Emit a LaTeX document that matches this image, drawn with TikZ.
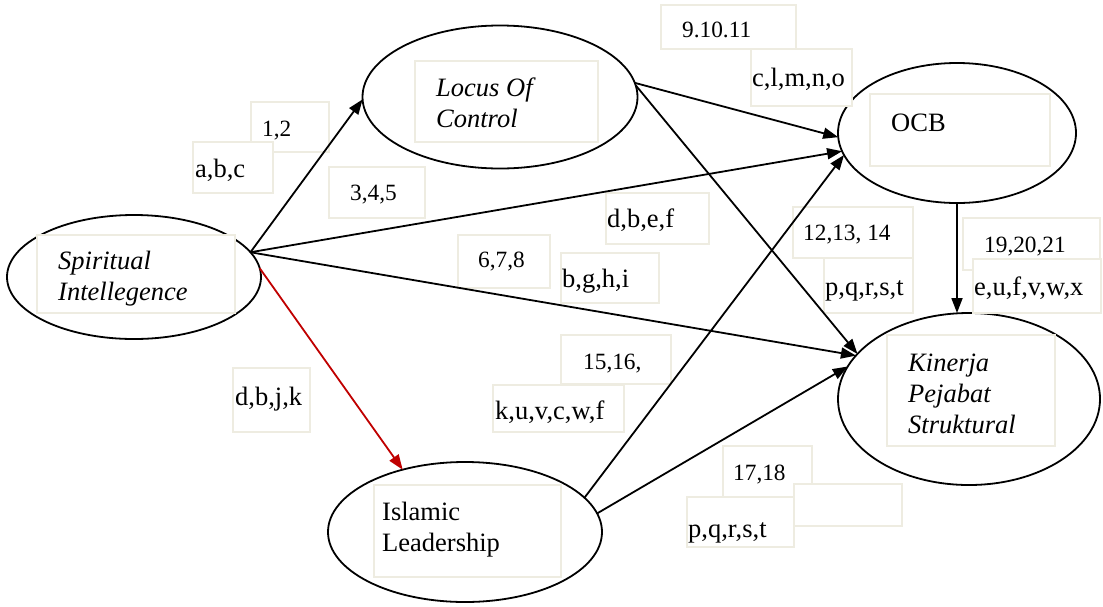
\documentclass[tikz,border=0pt]{standalone}
\usepackage{fontspec}
\setmainfont{Liberation Serif}
\usetikzlibrary{shapes.geometric,arrows.meta}
\definecolor{boxline}{HTML}{EEECE1}
\definecolor{darkred}{HTML}{C00000}
\begin{document}
\begin{tikzpicture}[x=1pt,y=-1pt,
  latent/.style={ellipse, draw, line width=1.8pt, inner sep=0pt, outer sep=0pt},
  lblbox/.style={draw=boxline, line width=1.6pt, fill=white},
  lettxt/.style={anchor=base west, inner sep=0pt, font=\fontsize{26.5}{31}\selectfont},
  numtxt/.style={anchor=base west, inner sep=0pt, font=\fontsize{23.3}{28}\selectfont},
  vartxt/.style={anchor=base west, inner sep=0pt, font=\fontsize{26.5}{31}\selectfont},
  link/.style={line width=1.8pt, -{Triangle[length=15pt,width=11pt]}},
]
\useasboundingbox (0,0) rectangle (1103,606);

% latent variables
\node[latent, minimum width=254pt, minimum height=124pt] (sp)  at (134,277) {};
\node[latent, minimum width=275pt, minimum height=143pt] (loc) at (500,97)  {};
\node[latent, minimum width=238pt, minimum height=140pt] (ocb) at (957,133) {};
\node[latent, minimum width=262pt, minimum height=172pt] (kin) at (969,399) {};
\node[latent, minimum width=274pt, minimum height=140pt] (isl) at (465,532) {};

% frames inside the ellipses
\draw[lblbox] (37,235) rectangle (235,313);
\draw[lblbox] (415,61) rectangle (598,142);
\draw[lblbox] (870,94) rectangle (1050,166);
\draw[lblbox] (887,335) rectangle (1055,446);
\draw[lblbox] (374,485) rectangle (561,577);

% path label frames
\draw[lblbox] (251,102) rectangle (329,152);
\draw[lblbox] (193,142) rectangle (273,193);
\draw[lblbox] (329,167) rectangle (425,218);
\draw[lblbox] (661,5) rectangle (796,49);
\draw[lblbox] (751,49) rectangle (852,106);
\draw[lblbox] (606,193) rectangle (709,244);
\draw[lblbox] (458,235) rectangle (550,288);
\draw[lblbox] (561,253) rectangle (659,303);
\draw[lblbox] (793,207) rectangle (913,258);
\draw[lblbox] (824,258) rectangle (913,313);
\draw[lblbox] (963,218) rectangle (1100,270);
\draw[lblbox] (973,259) rectangle (1101,313);
\draw[lblbox] (233,368) rectangle (310,432);
\draw[lblbox] (561,335) rectangle (671,384);
\draw[lblbox] (493,385) rectangle (624,432);
\draw[lblbox] (723,446) rectangle (812,500);
\draw[lblbox] (794,484) rectangle (902,526);
\draw[lblbox] (687,497) rectangle (794,547);

% variable names
\node[vartxt] (spt)  at (58,269)  {\itshape\begin{tabular}[t]{@{}l@{}}Spiritual\\Intellegence\end{tabular}};
\node[vartxt] (loct) at (436,96)  {\itshape\begin{tabular}[t]{@{}l@{}}Locus Of\\Control\end{tabular}};
\node[vartxt] (ocbt) at (891,131) {OCB};
\node[vartxt] (kint) at (908,371) {\itshape\begin{tabular}[t]{@{}l@{}}Kinerja\\Pejabat\\Struktural\end{tabular}};
\node[vartxt] (islt) at (382,520) {\begin{tabular}[t]{@{}l@{}}Islamic\\Leadership\end{tabular}};

% path labels
\node[numtxt] (t12)     at (262,136) {1,2};
\node[lettxt] (tabc)    at (195,177) {a,b,c};
\node[numtxt] (t345)    at (350,200) {3,4,5};
\node[numtxt] (t91011)  at (682,37)  {9.10.11};
\node[lettxt] (tclmno)  at (752,86)  {c,l,m,n,o};
\node[lettxt] (tdbef)   at (607,227) {d,b,e,f};
\node[numtxt] (t678)    at (478,267) {6,7,8};
\node[lettxt] (tbghi)   at (562,287) {b,g,h,i};
\node[numtxt] (t121314) at (803,240) {12,13, 14};
\node[lettxt] (tpqrsta) at (825,295) {p,q,r,s,t};
\node[numtxt] (t192021) at (984,252) {19,20,21};
\node[lettxt] (teufvwx) at (974,295) {e,u,f,v,w,x};
\node[lettxt] (tdbjk)   at (235,405) {d,b,j,k};
\node[numtxt] (t1516)   at (583,369) {15,16,};
\node[lettxt] (tkuvcwf) at (495,419) {k,u,v,c,w,f};
\node[numtxt] (t1718)   at (733,480) {17,18};
\node[lettxt] (tpqrstb) at (688,537) {p,q,r,s,t};

% structural paths
\draw[link] (sp.12.7) -- (loc.181.7);
\draw[link] (sp.12.7) -- (ocb.189.7);
\draw[link] (sp.12.7) -- (kin.159.7);
\draw[link] (loc.6.9) -- (ocb.182.9);
\draw[link] (loc.5.3) -- (kin.158);
\draw[link] (isl.16.9) -- (ocb.191.5);
\draw[link] (isl.8.4) -- (kin.165);
\draw[link] (ocb.south) -- (ocb.south |- kin.north);
\draw[link, color=darkred] (sp.4) -- (isl.135.9);
\end{tikzpicture}
\end{document}
